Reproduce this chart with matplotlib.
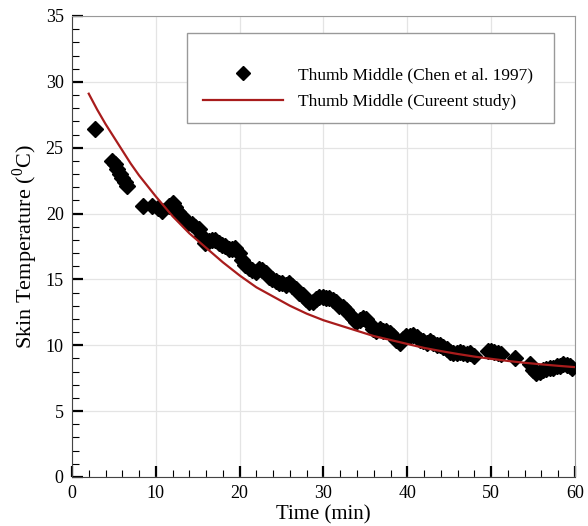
import matplotlib
matplotlib.use("Agg")
from matplotlib import pyplot as plt
from matplotlib.patches import Rectangle
from matplotlib.ticker import MultipleLocator

plt.rcParams['font.family'] = ['Liberation Serif', 'DejaVu Serif']
plt.rcParams['mathtext.fontset'] = 'custom'
plt.rcParams['mathtext.rm'] = 'Liberation Serif'

# measured data (Chen et al. 1997), time in min, temperature in C
chen_time = [2.7, 4.8, 5.1, 5.4, 5.7, 6.0, 6.3, 6.6, 8.5, 9.5, 10.3, 10.7,
             11.6, 12.0, 12.3, 12.7, 13.1, 13.5, 13.9, 14.3, 14.7, 15.1,
             15.5, 15.9, 16.3, 16.7, 17.1, 17.5, 17.9, 18.3, 18.7, 19.1,
             19.5, 19.9, 20.3, 20.7, 21.1, 21.5, 21.9, 22.3, 22.7, 23.1,
             23.5, 23.9, 24.3, 24.7, 25.1, 25.5, 25.9, 26.3, 26.7, 27.1,
             27.5, 27.9, 28.3, 28.7, 29.1, 29.5, 29.9, 30.3, 30.7, 31.1,
             31.5, 31.9, 32.3, 32.7, 33.1, 33.5, 33.9, 34.3, 34.7, 35.1,
             35.5, 35.9, 36.3, 36.7, 37.1, 37.5, 37.9, 38.3, 38.7, 39.1,
             39.5, 39.9, 40.3, 40.7, 41.1, 41.5, 41.9, 42.3, 42.7, 43.1,
             43.5, 43.9, 44.3, 44.7, 45.1, 45.5, 45.9, 46.3, 46.7, 47.1,
             47.5, 47.9, 49.6, 50.0, 50.4, 50.8, 51.2, 52.9, 54.6, 55.0,
             55.4, 55.8, 56.2, 56.6, 57.0, 57.4, 57.8, 58.2, 58.6, 59.0,
             59.4, 59.7]
chen_temp = [26.4, 24.0, 23.8, 23.4, 23.0, 22.7, 22.4, 22.1, 20.6, 20.6, 20.4, 20.2,
             20.6, 20.8, 20.5, 20.1, 19.8, 19.5, 19.3, 19.2, 19.0, 18.8,
             18.3, 17.8, 17.9, 18.0, 18.0, 17.8, 17.6, 17.5, 17.3, 17.3,
             17.4, 17.0, 16.5, 16.1, 15.9, 15.7, 15.6, 15.8, 15.7, 15.5,
             15.2, 15.0, 14.9, 14.7, 14.7, 14.6, 14.7, 14.5, 14.3, 14.0,
             13.8, 13.5, 13.3, 13.3, 13.5, 13.7, 13.7, 13.6, 13.6, 13.4,
             13.3, 13.0, 12.9, 12.7, 12.4, 12.1, 11.8, 11.9, 12.1, 12.0,
             11.6, 11.2, 11.1, 11.2, 11.1, 11.1, 10.9, 10.7, 10.4, 10.2,
             10.5, 10.7, 10.7, 10.8, 10.6, 10.4, 10.3, 10.2, 10.3, 10.2,
             10.0, 10.0, 9.9, 9.7, 9.5, 9.4, 9.4, 9.5, 9.4, 9.3,
             9.4, 9.2, 9.6, 9.6, 9.5, 9.4, 9.3, 9.0, 8.6, 8.1,
             7.9, 8.0, 8.1, 8.2, 8.3, 8.3, 8.4, 8.4, 8.6, 8.5,
             8.4, 8.3]

# model curve (current study)
model_time = [2, 3, 4, 5, 6, 7, 8, 10, 12, 14, 16, 18, 20, 22, 24, 26, 28, 30,
              32, 34, 36, 38, 40, 42, 44, 46, 48, 50, 52, 54, 56, 58, 60]
model_temp = [29.1, 27.9, 26.8, 25.8, 24.8, 23.8, 22.9, 21.3, 19.8, 18.5, 17.4,
              16.3, 15.3, 14.4, 13.7, 13.0, 12.4, 11.9, 11.5, 11.1, 10.7, 10.4,
              10.1, 9.8, 9.56, 9.34, 9.14, 8.97, 8.81, 8.67, 8.55, 8.44, 8.34]

fig = plt.figure(figsize=(5.88, 5.26), dpi=100)
ax = fig.add_axes([0.1224, 0.0932, 0.8554, 0.8764])

ax.plot(chen_time, chen_temp, linestyle='none', marker='D', markersize=7.8,
        color='black', label='Thumb Middle (Chen et al. 1997)', zorder=3)
ax.plot(model_time, model_temp, color='#a81c1c', linewidth=1.6,
        label='Thumb Middle (Cureent study)', zorder=4)

ax.set_xlim(0, 60)
ax.set_ylim(0, 35)
ax.xaxis.set_major_locator(MultipleLocator(10))
ax.xaxis.set_minor_locator(MultipleLocator(2))
ax.yaxis.set_major_locator(MultipleLocator(5))
ax.yaxis.set_minor_locator(MultipleLocator(1))
ax.grid(True, which='major', color='#e4e4e4', linewidth=0.9)
ax.set_axisbelow(True)

ax.tick_params(which='both', direction='in', top=False, right=False, labelsize=13)
ax.tick_params(which='major', length=8, width=1.6, pad=6)
ax.tick_params(which='minor', length=5, width=0.8)
for side in ['left', 'bottom']:
    ax.spines[side].set_color('#444444')
for side in ['top', 'right']:
    ax.spines[side].set_color('#999999')

ax.set_xlabel('Time (min)', fontsize=15, labelpad=2)
ax.set_ylabel(r'Skin Temperature ($^{\rm 0}$C)', fontsize=16, labelpad=4)

ax.add_patch(Rectangle((0.2286, 0.768), 0.7294, 0.195, transform=ax.transAxes,
                       fill=True, facecolor='white', edgecolor='#999999',
                       linewidth=1.0, zorder=5))
leg = ax.legend(loc='center left', bbox_to_anchor=(0.2604, 0.843), frameon=False,
                fontsize=12.5, handlelength=4.6, handletextpad=0.85,
                labelspacing=0.6, borderpad=0, borderaxespad=0, markerscale=0.9)
leg.set_zorder(6)

fig.savefig('out.png', dpi=100)
